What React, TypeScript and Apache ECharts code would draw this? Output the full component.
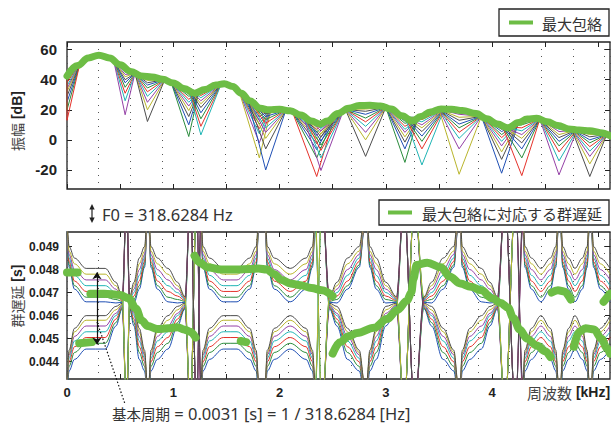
import React, { useEffect, useRef } from 'react';
import * as echarts from 'echarts';

// ---------- axes ----------
const X_MAX = 5.11; // kHz
const GRID_STEP = 0.2975; // dotted vertical grid spacing (kHz)
const xTickValues = [0, 0.5, 1, 1.5, 2, 2.5, 3, 3.5, 4, 4.5, 5];
const xLabelValues = [0, 1, 2, 3, 4];
const ampTickValues = [-20, 0, 20, 40, 60];
const gdTickValues = [44, 45, 46, 47, 48, 49]; // ms -> shown as seconds

// ---------- top panel: maximum envelope (kHz, dB) ----------
const envFreq = [0, 0.1, 0.2, 0.3, 0.4, 0.5, 0.6, 0.7, 0.8, 0.9, 1.0, 1.1, 1.2, 1.3, 1.4, 1.48, 1.56, 1.64, 1.72, 1.82, 1.9, 2.0, 2.1, 2.2, 2.3, 2.38, 2.45, 2.55, 2.65, 2.75, 2.85, 2.95, 3.05, 3.15, 3.25, 3.33, 3.42, 3.52, 3.62, 3.72, 3.85, 3.95, 4.05, 4.15, 4.25, 4.33, 4.42, 4.52, 4.62, 4.72, 4.82, 4.92, 5.02, 5.11];
const envDb = [42.5, 49.5, 54.5, 56.3, 54.5, 50, 45.5, 42.5, 41.8, 40.3, 37.8, 34.2, 31, 33.5, 36.5, 37.3, 35.5, 31, 26, 21, 20, 20.3, 19.3, 16.5, 12.5, 10.5, 12.5, 17.5, 21, 22.8, 23, 22.5, 20.5, 16, 12.5, 15.5, 18.5, 20.5, 20.3, 19.5, 17.5, 14, 10.5, 8, 11.5, 13.8, 14.3, 12, 9.5, 7.3, 6.5, 6, 4.8, 2.7];

// ---------- top panel: notch fans of the shifted-window spectra ----------
const fanLeftX = [0, 0.44, 0.64, 0.98, 1.14, 1.62, 1.70, 2.12, 2.22, 2.62, 3.0, 3.18, 3.5, 3.9, 4.1, 4.45, 4.75];
const fanLeftY = [42.5, 52.5, 44.3, 38.3, 34.5, 32.2, 27, 18.9, 16.5, 20.2, 21.6, 15.2, 20.3, 15.7, 8.8, 13.7, 7.0];
const fanTipX = [0, 0.547, 0.757, 1.146, 1.26, 1.81, 1.87, 2.35, 2.39, 2.81, 3.18, 3.34, 3.69, 4.09, 4.28, 4.63, 4.92];
const fanRightX = [0.12, 0.64, 0.92, 1.24, 1.45, 1.92, 2.06, 2.52, 2.60, 3.0, 3.3, 3.55, 3.9, 4.25, 4.45, 4.8, 5.08];
const fanRightY = [50.5, 44.3, 40.0, 31.7, 37.0, 20.0, 19.8, 16.0, 19.3, 21.6, 14.0, 20.5, 15.7, 11.5, 13.8, 6.6, 3.6];
const fanTips = [
  [41, 39.5, 38, 36, 34, 32, 29, 25, 20, 13],
  [46.5, 45, 43.5, 42, 40, 38, 35, 31, 26, 16.7],
  [41, 39.5, 38, 36.5, 34.5, 32, 29, 25, 20, 12.2],
  [32, 30.5, 29, 27, 25, 22.5, 19.5, 15.5, 10, 2.2],
  [31, 29.5, 28, 26, 24, 21.5, 18, 14, 9, 3.3],
  [20.5, 19, 17.5, 15.5, 13, 10.5, 7.5, 4, -2, -12],
  [19, 17.5, 15.5, 13.5, 11, 8, 5, 1, -6, -20],
  [10.5, 9, 7, 5, 3, 0.5, -2.5, -6.5, -12, -24.4],
  [9.5, 8, 6, 4, 2, -0.5, -3.5, -7, -12, -20.4],
  [22, 20.5, 19, 17, 14.5, 12, 9, 5, 0, -11],
  [14, 12.5, 11, 9, 7, 5, 2, -1.5, -6, -15],
  [15, 13.5, 12, 10, 8, 5.5, 2.5, -1, -6, -16.7],
  [18.5, 17, 15, 13, 10.5, 8, 5, 1, -6, -22.9],
  [8.5, 7, 5.5, 3.5, 1.5, -1, -4, -8, -13, -22.2],
  [11.5, 10, 8, 6, 3.5, 1, -2, -6, -12, -23.8],
  [8.3, 7, 5.5, 3.5, 1.5, -1, -4, -8, -14, -23.3],
  [5, 3.5, 2, 0, -2, -4.5, -7.5, -11, -16, -24.4],
];

// ---------- bottom panel: group-delay family (ms), read as level profiles ----------
const gdFlat = [44.55, 44.8, 45.05, 45.3, 45.55, 45.8, 46.0, 46.6, 46.8, 47.05, 47.3, 47.55, 47.8, 48.05];
const gdNearPole1 = [44.1, 44.4, 44.65, 44.9, 45.1, 45.3, 45.45, 47.15, 47.3, 47.5, 47.75, 48.0, 48.25, 48.5];
const gdNearPole2 = [43.6, 43.8, 44.0, 44.15, 44.3, 44.4, 44.5, 48.1, 48.2, 48.35, 48.5, 48.65, 48.8, 49.0];
const gdAtPole = [42.6, 42.7, 42.8, 42.9, 43.0, 43.05, 43.1, 49.8, 49.85, 49.9, 50.0, 50.1, 50.2, 50.3];
const gdNearPinch = [45.55, 45.7, 45.85, 46.0, 46.1, 46.25, 46.4, 46.55, 46.7, 46.85, 47.0, 47.15, 47.3, 47.45];
const gdPinch = [46.3, 46.34, 46.38, 46.42, 46.46, 46.5, 46.54, 46.58, 46.62, 46.66, 46.7, 46.74, 46.78, 46.82];
const gdSpikeA = [42, 51, 42, 51, 42, 51, 42, 51, 42, 51, 42, 51, 42, 51];
const gdSpikeB = [51, 42, 51, 42, 51, 42, 51, 42, 51, 42, 51, 42, 51, 42];

const gdFreq = [0.0, 0.02, 0.07, 0.18, 0.36, 0.46, 0.52, 0.56, 0.59, 0.63, 0.68, 0.73, 0.755, 0.77, 0.79, 0.85, 0.95, 1.04, 1.11, 1.16, 1.22, 1.26, 1.28, 1.34, 1.47, 1.6, 1.72, 1.78, 1.805, 1.865, 1.885, 1.95, 2.1, 2.25, 2.31, 2.335, 2.4, 2.47, 2.54, 2.64, 2.75, 2.8, 2.82, 2.85, 2.91, 3.0, 3.1, 3.17, 3.27, 3.36, 3.43, 3.54, 3.64, 3.68, 3.7, 3.72, 3.79, 3.9, 3.98, 4.05, 4.12, 4.22, 4.29, 4.31, 4.37, 4.46, 4.55, 4.6, 4.625, 4.645, 4.665, 4.72, 4.78, 4.85, 4.895, 4.915, 4.935, 4.955, 5.02, 5.11];
const gdShape = ['D3', 'D2', 'D1', 'F', 'F', 'P1', 'P0', 'S', 'P0', 'P1', 'D1', 'D2', 'D3', 'D3', 'D2', 'D1', 'F', 'P1', 'P0', 'S', 'R', 'D3', 'D2', 'D1', 'F', 'F', 'D1', 'D2', 'D3', 'D3', 'D2', 'D1', 'F', 'D1', 'D2', 'D3', 'S', 'P0', 'P1', 'D1', 'D2', 'D3', 'D3', 'D2', 'D1', 'P1', 'P0', 'S', 'R', 'P0', 'P1', 'D1', 'D2', 'D3', 'D3', 'D2', 'D1', 'F', 'P1', 'P0', 'S', 'R', 'D3', 'D2', 'D1', 'F', 'D1', 'D2', 'D3', 'D3', 'D2', 'D1', 'F', 'D1', 'D2', 'D3', 'D3', 'D2', 'D1', 'F'];

// ---------- bottom panel: group delay of the maximum envelope (kHz, ms) ----------
const gdMax1 = [[0, 47.87], [0.1, 47.87]];
const gdMax2 = [[0.115, 44.8], [0.235, 44.85]];
const gdMax3 = [[0.22, 46.95], [0.35, 46.95], [0.5, 46.9], [0.58, 46.75], [0.65, 46.3], [0.7, 45.8], [0.76, 45.55], [0.85, 45.42], [0.95, 45.45], [1.04, 45.5], [1.1, 45.4], [1.16, 45.3], [1.21, 45.05]];
const gdMax4 = [[1.2, 48.6], [1.25, 48.3], [1.32, 48.1], [1.45, 48.0], [1.6, 48.0], [1.72, 48.02], [1.8, 48.05], [1.88, 48.0], [1.95, 47.8], [2.02, 47.55], [2.1, 47.4], [2.2, 47.32], [2.3, 47.2], [2.4, 47.1], [2.5, 46.85]];
const gdMax5 = [[1.635, 44.9], [1.685, 44.85]];
const gdMax6 = [[2.5, 44.35], [2.57, 44.85], [2.65, 45.1], [2.73, 45.25], [2.89, 45.47], [3.01, 45.85], [3.11, 46.25], [3.2, 46.65], [3.24, 47.0], [3.26, 47.6], [3.29, 48.2], [3.39, 48.3], [3.52, 48.1], [3.6, 47.7], [3.7, 47.4], [3.8, 47.25], [3.9, 47.1], [4.0, 46.75], [4.08, 46.55], [4.15, 46.35], [4.2, 45.9], [4.26, 45.4], [4.33, 45.0], [4.42, 44.7], [4.5, 44.45], [4.55, 44.2]];
const gdMax7 = [[4.56, 47.0], [4.62, 47.1], [4.68, 47.05], [4.74, 46.7]];
const gdMax8 = [[4.77, 44.65], [4.82, 45.3], [4.88, 45.45], [4.96, 45.4], [5.03, 45.0], [5.08, 44.6], [5.11, 44.35]];
const gdMax9 = [[5.05, 46.6], [5.11, 46.95]];

// fundamental-period arrow (kHz, ms)
const periodArrowX = 0.282;
const periodArrowTop = 47.88;
const periodArrowBottom = 44.75;

// ---------- styles ----------
const GREEN = '#6dbd45';
const PALETTE = ['#1f4fb4', '#2a8c3c', '#e5322b', '#1fb5b5', '#9440a6', '#b9b52c', '#4d4d4d'];
const FONT_NUM = '"Liberation Sans", Arial, sans-serif';
const FONT_CJK = '"Noto Sans CJK JP", "Noto Sans", sans-serif';
const FONT_TXT = '"Noto Sans", "Noto Sans CJK JP", sans-serif';

function xTickAxis(gridIndex: number, position: string, withLabels: boolean): any {
  return {
    type: 'value', gridIndex, position, min: 0, max: X_MAX,
    axisLine: { show: false, onZero: false },
    axisTick: { show: true, inside: true, length: 5, customValues: xTickValues, lineStyle: { color: '#222', width: 1 } },
    axisLabel: withLabels
      ? { show: true, customValues: xLabelValues, fontFamily: FONT_NUM, fontWeight: 'bold', fontSize: 13, color: '#222', margin: 7 }
      : { show: false },
    splitLine: { show: false },
  };
}
function xDotAxis(gridIndex: number): any {
  return {
    type: 'value', gridIndex, position: 'bottom', min: 0, max: X_MAX, interval: GRID_STEP,
    axisLine: { show: false, onZero: false }, axisTick: { show: false }, axisLabel: { show: false },
    splitLine: { show: true, lineStyle: { type: [1, 6], color: '#555', width: 1 } },
  };
}
function yAxisDef(gridIndex: number, position: string, min: number, max: number, ticks: number[], label: any): any {
  return {
    type: 'value', gridIndex, position, min, max,
    axisLine: { show: false, onZero: false },
    axisTick: { show: true, inside: true, length: 5, customValues: ticks, lineStyle: { color: '#222', width: 1 } },
    axisLabel: label ? { show: true, customValues: ticks, ...label } : { show: false },
    splitLine: { show: false },
  };
}

function buildOption(): any {
  const series: any[] = [];
  // top: fans
  fanTipX.forEach((xt, f) => {
    fanTips[f].forEach((tip, i) => {
      series.push({
        type: 'line', xAxisIndex: 0, yAxisIndex: 0, silent: true, symbol: 'none', z: 2,
        data: [[fanLeftX[f], fanLeftY[f]], [xt, tip], [fanRightX[f], fanRightY[f]]],
        lineStyle: { color: PALETTE[(i + f * 2) % PALETTE.length], width: 1 },
      });
    });
  });
  // top: envelope
  series.push({
    type: 'line', name: '最大包絡', xAxisIndex: 0, yAxisIndex: 0, silent: true, symbol: 'none', z: 5,
    smooth: 0.4, smoothMonotone: 'x',
    data: envFreq.map((f, k) => [f, envDb[k]]),
    lineStyle: { color: GREEN, width: 7, cap: 'round', join: 'round' },
  });
  // bottom: family
  const shapes: Record<string, number[]> = {
    F: gdFlat, D1: gdNearPole1, D2: gdNearPole2, D3: gdAtPole,
    P1: gdNearPinch, P0: gdPinch, S: gdSpikeA, R: gdSpikeB,
  };
  gdFlat.forEach((_, i) => {
    series.push({
      type: 'line', xAxisIndex: 3, yAxisIndex: 2, silent: true, symbol: 'none', z: 2,
      smooth: 0.35, smoothMonotone: 'x',
      data: gdFreq.map((f, k) => [f, shapes[gdShape[k]][i]]),
      lineStyle: { color: PALETTE[i % PALETTE.length], width: 1 },
    });
  });
  // bottom: max-envelope group delay
  [gdMax1, gdMax2, gdMax3, gdMax4, gdMax5, gdMax6, gdMax7, gdMax8, gdMax9].forEach((seg) => {
    series.push({
      type: 'line', xAxisIndex: 3, yAxisIndex: 2, silent: true, symbol: 'none', z: 5,
      smooth: 0.35, smoothMonotone: 'x', data: seg,
      lineStyle: { color: GREEN, width: 8, cap: 'round', join: 'round' },
    });
  });
  // bottom: period arrow
  series.push({
    type: 'line', xAxisIndex: 3, yAxisIndex: 2, silent: true, symbol: 'none', z: 8,
    data: [[periodArrowX, periodArrowTop]], lineStyle: { opacity: 0 },
    markLine: {
      silent: true, symbol: ['arrow', 'arrow'], symbolSize: 7, z: 8,
      lineStyle: { color: '#111', width: 1.2, type: 'solid' }, label: { show: false },
      data: [[{ coord: [periodArrowX, periodArrowTop] }, { coord: [periodArrowX, periodArrowBottom] }]],
    },
  });

  const gridStyle = { show: true, borderColor: '#222', borderWidth: 1.3, backgroundColor: '#fff' };

  return {
    animation: false,
    backgroundColor: '#fff',
    grid: [
      { left: 67, top: 42, width: 543, height: 147, ...gridStyle },
      { left: 67, top: 232, width: 543, height: 147, ...gridStyle },
    ],
    xAxis: [
      xTickAxis(0, 'bottom', false),
      xTickAxis(0, 'top', false),
      xDotAxis(0),
      xTickAxis(1, 'bottom', true),
      xTickAxis(1, 'top', false),
      xDotAxis(1),
    ],
    yAxis: [
      yAxisDef(0, 'left', -32.7, 65.1, ampTickValues, { fontFamily: FONT_NUM, fontWeight: 'bold', fontSize: 15, color: '#222', margin: 10 }),
      yAxisDef(0, 'right', -32.7, 65.1, ampTickValues, null),
      yAxisDef(1, 'left', 43.25, 49.63, gdTickValues, { fontFamily: FONT_NUM, fontWeight: 'bold', fontSize: 12, color: '#222', margin: 8, formatter: (v: number) => (v / 1000).toFixed(3) }),
      yAxisDef(1, 'right', 43.25, 49.63, gdTickValues, null),
    ],
    series,
    graphic: [
      // legend (top)
      { type: 'rect', z: 20, shape: { x: 499, y: 9, width: 110, height: 27 }, style: { fill: '#fff', stroke: '#222', lineWidth: 1.3 } },
      { type: 'line', z: 21, shape: { x1: 509, y1: 22.5, x2: 533, y2: 22.5 }, style: { stroke: GREEN, lineWidth: 4 } },
      { type: 'text', z: 21, x: 542, y: 23, style: { text: '最大包絡', fontFamily: FONT_CJK, fontSize: 15, fill: '#333', align: 'left', verticalAlign: 'middle' } },
      // legend (bottom)
      { type: 'rect', z: 20, shape: { x: 379, y: 200, width: 230, height: 25 }, style: { fill: '#fff', stroke: '#222', lineWidth: 1.3 } },
      { type: 'line', z: 21, shape: { x1: 388, y1: 212.5, x2: 412, y2: 212.5 }, style: { stroke: GREEN, lineWidth: 4 } },
      { type: 'text', z: 21, x: 422, y: 213, style: { text: '最大包絡に対応する群遅延', fontFamily: FONT_CJK, fontSize: 15, fill: '#333', align: 'left', verticalAlign: 'middle' } },
      // F0 annotation
      { type: 'line', z: 21, shape: { x1: 92, y1: 207, x2: 92, y2: 220 }, style: { stroke: '#222', lineWidth: 1.2 } },
      { type: 'polygon', z: 21, shape: { points: [[92, 204], [89.3, 209.5], [94.7, 209.5]] }, style: { fill: '#222' } },
      { type: 'polygon', z: 21, shape: { points: [[92, 223], [89.3, 217.5], [94.7, 217.5]] }, style: { fill: '#222' } },
      { type: 'text', z: 21, x: 102, y: 214, style: { text: 'F0 = 318.6284 Hz', fontFamily: FONT_TXT, fontSize: 16.5, fill: '#333', align: 'left', verticalAlign: 'middle' } },
      // period annotation
      { type: 'line', z: 21, shape: { x1: 97, y1: 322, x2: 125, y2: 404 }, style: { stroke: '#111', lineWidth: 1.2, lineDash: [1.5, 2] } },
      {
        type: 'text', z: 21, x: 112, y: 413,
        style: {
          text: '{c|基本周期}{l| = 0.0031 [s] = 1 / 318.6284 [Hz]}', align: 'left', verticalAlign: 'middle', fontSize: 16,
          rich: { c: { fontFamily: FONT_CJK, fontSize: 14.5, fill: '#333' }, l: { fontFamily: FONT_TXT, fontSize: 16.5, fill: '#333' } },
        },
      },
      // axis names
      {
        type: 'text', z: 21, x: 17, y: 121, rotation: Math.PI / 2,
        style: {
          text: '{a|振幅} {b|[dB]}', align: 'center', verticalAlign: 'middle', fontSize: 14,
          rich: { a: { fontFamily: FONT_CJK, fontSize: 14, fill: '#444' }, b: { fontFamily: FONT_NUM, fontWeight: 'bold', fontSize: 14, fill: '#222' } },
        },
      },
      {
        type: 'text', z: 21, x: 17, y: 296, rotation: Math.PI / 2,
        style: {
          text: '{a|群遅延} {b|[s]}', align: 'center', verticalAlign: 'middle', fontSize: 14,
          rich: { a: { fontFamily: FONT_CJK, fontSize: 14, fill: '#444' }, b: { fontFamily: FONT_NUM, fontWeight: 'bold', fontSize: 14, fill: '#222' } },
        },
      },
      {
        type: 'text', z: 21, x: 527, y: 392,
        style: {
          text: '{a|周波数} {b|[kHz]}', align: 'left', verticalAlign: 'middle', fontSize: 14,
          rich: { a: { fontFamily: FONT_CJK, fontSize: 15, fill: '#444' }, b: { fontFamily: FONT_NUM, fontWeight: 'bold', fontSize: 14, fill: '#222' } },
        },
      },
    ],
  };
}

export default function App() {
  const ref = useRef<HTMLDivElement>(null);
  useEffect(() => {
    const chart = echarts.init(ref.current as HTMLDivElement, undefined, { renderer: 'svg' });
    chart.setOption(buildOption());
    return () => chart.dispose();
  }, []);
  return <div ref={ref} style={{ position: 'fixed', left: 0, top: 0, width: 611, height: 428, background: '#fff' }} />;
}
